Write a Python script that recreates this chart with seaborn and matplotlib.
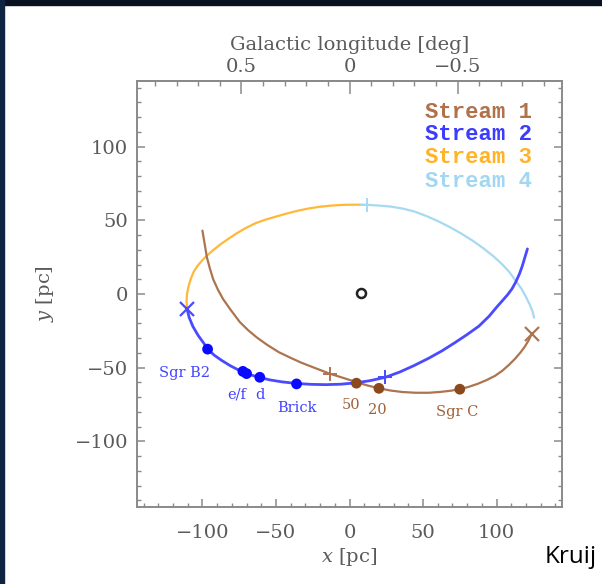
import matplotlib
matplotlib.use("Agg")
import matplotlib.pyplot as plt
from matplotlib.patches import Rectangle
from matplotlib.ticker import MultipleLocator, FixedLocator
import seaborn as sns
import pandas as pd

# ---------------- data ----------------
stream1_x = [-100, -98.5, -97, -95, -92.7, -89.5, -86, -81, -74.6, -69, -63, -56, -48, -40.7, -33, -24,
             -13.6, -4, 4.7, 12, 20, 28, 36, 45, 54, 62, 69, 75, 81, 87, 93, 99, 104, 108.5, 112.5,
             116, 119, 121.5, 124]
stream1_y = [43, 34, 25, 17.5, 10, 3, -3.4, -10.5, -19, -24.5, -29.5, -34.5, -39.5, -43, -46.5, -50,
             -54, -57, -59.8, -62, -64, -65.5, -66.5, -67, -67, -66.4, -65.6, -64.6, -63, -61, -58.5,
             -55.5, -52, -48, -44, -40, -36, -32, -27]

stream2_x = [-110.5, -109, -106.5, -103, -99, -96.5, -92, -87, -81, -75, -70, -65, -61, -54, -46, -36,
             -26, -16, -6, 4, 14, 24.4, 34, 44, 54, 63, 72, 80, 88, 95, 100, 104, 107.5, 110.5, 113,
             115.5, 117.5, 119.3, 121]
stream2_y = [-10, -16, -22, -28, -33.5, -37.4, -41.5, -45, -48.7, -51.8, -54, -55.5, -56.7, -58.3,
             -59.6, -60.7, -61.3, -61.5, -61.2, -60.3, -58.8, -56.5, -53, -48.5, -43.5, -38.5,
             -32.8, -27.5, -21.8, -15, -9, -4.5, -0.5, 3.5, 8, 13.5, 19, 25, 30.6]

stream3_x = [-110.5, -110.8, -110.5, -109.5, -108, -106, -103, -100, -97, -93, -88, -83, -77, -71, -64,
             -57, -50, -43, -36, -28, -20, -12, -4, 4, 12]
stream3_y = [-10, -5, 0, 5, 10, 15, 19.5, 23, 26, 29.5, 33.5, 37, 41, 44.5, 48, 50.5, 52.5, 54.5,
             56.3, 58, 59.2, 60, 60.5, 60.6, 60.5]

stream4_x = [12, 20, 28, 36, 44, 52, 60, 68, 76, 84, 91, 98, 104, 109, 113, 117, 120, 122.5, 124.5, 125.5]
stream4_y = [60.5, 60, 59.3, 58, 56, 53, 49.5, 45.5, 41, 36, 31, 25.5, 20, 14.5, 9, 3.5, -2, -7, -12, -16]

stream_names = ["Stream 1", "Stream 2", "Stream 3", "Stream 4"]

blue_cloud_x = [-96.5, -72.5, -70, -61, -36]
blue_cloud_y = [-37.4, -52.5, -54, -56.5, -61]
blue_label_text = ["Sgr B2", "e/f", "d", "Brick"]
blue_label_x = [-112, -76.6, -61, -36]
blue_label_y = [-53.5, -68, -68.7, -77]

brown_cloud_x = [4.7, 20, 75]
brown_cloud_y = [-60.5, -64, -64.6]
brown_label_text = ["50", "20", "Sgr C"]
brown_label_x = [1.4, 19, 73]
brown_label_y = [-75, -79, -80]

cross_x = [-110.5, 124]
cross_y = [-10, -27]
plus_x = [-13.6, 24.4, 12]
plus_y = [-54, -56.5, 60.5]

sgra_x = [8]
sgra_y = [0.7]

lon_ticks = [0.5, 0, -0.5]
lon_labels = ["0.5", "0", "\u22120.5"]
xy_ticks = [-100, -50, 0, 50, 100]

# ---------------- styling ----------------
sns.set_theme(style="white")
plt.rcParams["font.family"] = ["DejaVu Serif", "DejaVu Sans"]
plt.rcParams["mathtext.fontset"] = "dejavuserif"

c1_line, c1_dot = "#ad7450", "#8b4a1e"
c2_line, c2_dot = "#4a4aff", "#0a0aff"
c3_line = "#ffb838"
c4_line = "#a6d9f2"
leg_colors = ["#b0714b", "#3c3cff", "#ffb326", "#a3d6f0"]
grey = "#5a5a5a"
frame = "#8a8a8a"

fig = plt.figure(figsize=(6.02, 5.84), dpi=100)
fig.patch.set_facecolor("white")
ax = fig.add_axes([137 / 602, 1 - 507 / 584, 425 / 602, 426 / 584])

lim = (-144.5, 144.5)

df1 = pd.DataFrame({"x": stream1_x, "y": stream1_y})
df2 = pd.DataFrame({"x": stream2_x, "y": stream2_y})
df3 = pd.DataFrame({"x": stream3_x, "y": stream3_y})
df4 = pd.DataFrame({"x": stream4_x, "y": stream4_y})

kw = dict(sort=False, estimator=None, ax=ax)
sns.lineplot(data=df3, x="x", y="y", color=c3_line, lw=1.6, **kw)
sns.lineplot(data=df4, x="x", y="y", color=c4_line, lw=1.6, **kw)
sns.lineplot(data=df1, x="x", y="y", color=c1_line, lw=1.6, **kw)
sns.lineplot(data=df2, x="x", y="y", color=c2_line, lw=2.0, **kw)
for ln in ax.lines:
    ln.set_solid_joinstyle("round")

# clouds
sns.scatterplot(x=blue_cloud_x, y=blue_cloud_y, color=c2_dot, s=60, edgecolor="none", ax=ax, zorder=5)
sns.scatterplot(x=brown_cloud_x, y=brown_cloud_y, color=c1_dot, s=60, edgecolor="none", ax=ax, zorder=5)

# end / transition markers
ax.plot(cross_x[0], cross_y[0], marker="x", ms=10, mew=1.6, color=c2_line, zorder=6)
ax.plot(cross_x[1], cross_y[1], marker="x", ms=10, mew=1.6, color=c1_line, zorder=6)
ax.plot(plus_x[0], plus_y[0], marker="+", ms=10, mew=1.4, color=c1_line, zorder=6)
ax.plot(plus_x[1], plus_y[1], marker="+", ms=10, mew=1.4, color=c2_line, zorder=6)
ax.plot(plus_x[2], plus_y[2], marker="+", ms=10, mew=1.4, color=c4_line, zorder=6)

# Sgr A*
ax.plot(sgra_x, sgra_y, marker="o", ms=6.5, mfc="none", mec="#222222", mew=1.8, zorder=6)

# labels
for t, x, y in zip(blue_label_text, blue_label_x, blue_label_y):
    ax.text(x, y, t, color="#4444ff", fontsize=10.5, ha="center", va="center")
for t, x, y in zip(brown_label_text, brown_label_x, brown_label_y):
    ax.text(x, y, t, color="#a0603a", fontsize=10.5, ha="center", va="center")

# legend-like text
leg_y = [123, 108.5, 92.5, 76.5]
for name, col, yy in zip(stream_names, leg_colors, leg_y):
    ax.text(124, yy, name, color=col, fontsize=16, family="Liberation Mono",
            fontweight="bold", ha="right", va="center")

ax.set_xlim(lim)
ax.set_ylim(lim)
ax.set_xticks(xy_ticks)
ax.set_yticks(xy_ticks)
ax.set_xticklabels([str(v).replace("-", "\u2212") for v in xy_ticks])
ax.set_yticklabels([str(v).replace("-", "\u2212") for v in xy_ticks])
ax.xaxis.set_minor_locator(MultipleLocator(10))
ax.yaxis.set_minor_locator(MultipleLocator(10))

for sp in ax.spines.values():
    sp.set_color(frame)
    sp.set_linewidth(1.4)

ax.tick_params(axis="x", which="both", direction="in", bottom=True, top=False,
               colors=frame, labelcolor=grey, labelsize=14, pad=12)
ax.tick_params(axis="y", which="both", direction="in", left=True, right=True,
               colors=frame, labelcolor=grey, labelsize=14, pad=6.5)
ax.tick_params(which="major", length=6, width=1.1)
ax.tick_params(which="minor", length=3, width=1.0)

ax.set_xlabel("$x$ [pc]", fontsize=14, color=grey)
ax.xaxis.set_label_coords(0.5, (507 - 557) / 426)
ax.xaxis.label.set_va("center")
ax.set_ylabel("$y$ [pc]", fontsize=14, color=grey)
ax.yaxis.set_label_coords((45 - 137) / 425, 0.5)
ax.yaxis.label.set_va("center")

# top axis: galactic longitude
pc_per_deg = 147.0
secax = ax.secondary_xaxis("top", functions=(lambda x: -x / pc_per_deg, lambda l: -l * pc_per_deg))
secax.xaxis.set_major_locator(FixedLocator(lon_ticks))
secax.set_xticklabels(lon_labels)
secax.xaxis.set_minor_locator(MultipleLocator(0.1))
secax.tick_params(which="both", direction="in", colors=frame, labelcolor=grey, labelsize=14, pad=3.5)
secax.tick_params(which="major", length=9, width=1.1)
secax.tick_params(which="minor", length=3.5, width=1.0)
secax.spines["top"].set_color(frame)
secax.set_xlabel("Galactic longitude [deg]", fontsize=14, color=grey, labelpad=6)

# screenshot frame
fig.add_artist(Rectangle((0, 1 - 5 / 584), 1, 5 / 584, transform=fig.transFigure,
                         color="#0a1220", zorder=10))
fig.add_artist(Rectangle((0, 0), 4 / 602, 1, transform=fig.transFigure,
                         color="#0f2440", zorder=10))
fig.text(545 / 602, 1 - 557 / 584, "Kruij", fontsize=17.5, family="Open Sans",
         color="black", ha="left", va="center")

fig.savefig("out.png", dpi=100)
